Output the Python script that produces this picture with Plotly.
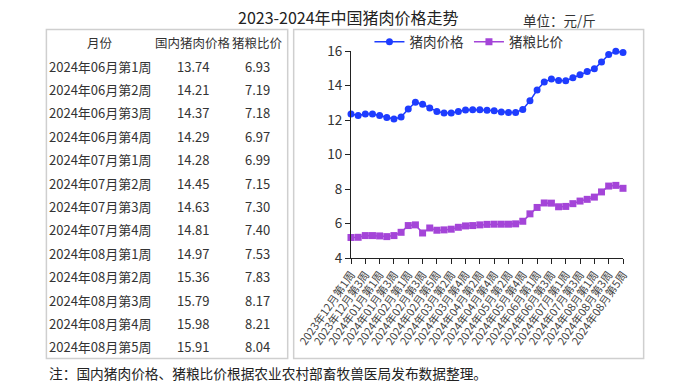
import plotly.graph_objects as go

weeks = [
    "2023年12月第1周", "2023年12月第2周", "2023年12月第3周", "2023年12月第4周",
    "2024年01月第1周", "2024年01月第2周", "2024年01月第3周", "2024年01月第4周",
    "2024年02月第1周", "2024年02月第2周", "2024年02月第3周", "2024年02月第4周", "2024年02月第5周",
    "2024年03月第1周", "2024年03月第2周", "2024年03月第3周", "2024年03月第4周",
    "2024年04月第1周", "2024年04月第2周", "2024年04月第3周", "2024年04月第4周",
    "2024年05月第1周", "2024年05月第2周", "2024年05月第3周", "2024年05月第4周", "2024年05月第5周",
    "2024年06月第1周", "2024年06月第2周", "2024年06月第3周", "2024年06月第4周",
    "2024年07月第1周", "2024年07月第2周", "2024年07月第3周", "2024年07月第4周",
    "2024年08月第1周", "2024年08月第2周", "2024年08月第3周", "2024年08月第4周", "2024年08月第5周",
]

pork_price = [
    12.35, 12.26, 12.35, 12.35, 12.26, 12.14, 12.06, 12.17, 12.64, 13.03,
    12.91, 12.70, 12.50, 12.41, 12.41, 12.49, 12.58, 12.60, 12.60, 12.56,
    12.53, 12.47, 12.44, 12.44, 12.61, 13.11,
    13.74, 14.21, 14.37, 14.29, 14.28, 14.45, 14.63, 14.81, 14.97, 15.36, 15.79, 15.98, 15.91,
]

pig_grain_ratio = [
    5.19, 5.20, 5.30, 5.30, 5.28, 5.24, 5.30, 5.49, 5.88, 5.92,
    5.45, 5.74, 5.61, 5.63, 5.67, 5.78, 5.86, 5.88, 5.92, 5.95,
    5.96, 5.96, 5.96, 5.98, 6.13, 6.56,
    6.93, 7.19, 7.18, 6.97, 6.99, 7.15, 7.30, 7.40, 7.53, 7.83, 8.17, 8.21, 8.04,
]

table_start = 26
table_headers = ["月份", "国内猪肉价格", "猪粮比价"]
series_names = ["猪肉价格", "猪粮比价"]
title_text = "2023-2024年中国猪肉价格走势"
unit_text = "单位：元/斤"
note_text = "注：国内猪肉价格、猪粮比价根据农业农村部畜牧兽医局发布数据整理。"

W, H = 681, 390
ML, MR, MT, MB = 350.5, 57.7, 50.7, 132.3
PW, PH = W - ML - MR, H - MT - MB
FONT = "Noto Sans CJK SC"


def fx(x):
    return (x - ML) / PW


def fy(y):
    return (H - MB - y) / PH


fig = go.Figure()
fig.add_trace(go.Scatter(
    x=weeks, y=pork_price, name=series_names[0], mode="lines+markers",
    line=dict(color="#1E3CFF", width=1.5),
    marker=dict(symbol="circle", size=7, color="#1E3CFF"),
    cliponaxis=False,
))
fig.add_trace(go.Scatter(
    x=weeks, y=pig_grain_ratio, name=series_names[1], mode="lines+markers",
    line=dict(color="#A445D8", width=1.5),
    marker=dict(symbol="square", size=7, color="#A445D8"),
    cliponaxis=False,
))

shapes = [
    dict(type="rect", xref="paper", yref="paper", x0=fx(45), x1=fx(287),
         y0=fy(358.3), y1=fy(29.3), line=dict(color="#cfcfcf", width=1.5)),
    dict(type="rect", xref="paper", yref="paper", x0=fx(293), x1=fx(644),
         y0=fy(358.3), y1=fy(29.3), line=dict(color="#cfcfcf", width=1.5)),
]

annotations = []


def ann(text, x, y, size, color="#333333", xanchor="center"):
    annotations.append(dict(
        text=text, xref="paper", yref="paper", x=fx(x), y=fy(y),
        xanchor=xanchor, yanchor="middle", showarrow=False,
        font=dict(family=FONT, size=size, color=color),
    ))


ann(title_text, 348, 16.3, 16, "#222222")
ann(unit_text, 560, 19.7, 13.5, "#333333")
ann(note_text, 46, 373, 13.7, "#222222", xanchor="left")

col_x = [99, 192, 257]
for cx, h in zip(col_x, table_headers):
    ann(h, cx, 42, 12.5)
for i in range(table_start, len(weeks)):
    yy = 65.7 + (i - table_start) * 23.4
    ann(weeks[i], col_x[0], yy, 13)
    ann(f"{pork_price[i]:.2f}", col_x[1], yy, 13)
    ann(f"{pig_grain_ratio[i]:.2f}", col_x[2], yy, 13)

fig.update_layout(
    width=W, height=H,
    margin=dict(l=ML, r=MR, t=MT, b=MB, pad=0),
    paper_bgcolor="white", plot_bgcolor="white",
    font=dict(family=FONT, color="#333333"),
    showlegend=True,
    legend=dict(orientation="h", x=fx(369), y=fy(41.7), xanchor="left", yanchor="middle",
                font=dict(family=FONT, size=13.5, color="#333333"),
                bgcolor="rgba(0,0,0,0)", itemwidth=30, tracegroupgap=0),
    shapes=shapes,
    annotations=annotations,
    xaxis=dict(
        type="category", range=[0, len(weeks) - 1],
        tickmode="array", tickvals=weeks[::2], ticktext=weeks[::2],
        tickangle=-55, tickfont=dict(family=FONT, size=11, color="#444444"),
        showline=True, linecolor="#222222", linewidth=1,
        ticks="outside", ticklen=5, tickcolor="#222222",
        showgrid=False, zeroline=False, automargin=False,
    ),
    yaxis=dict(
        range=[4, 16], tickvals=[4, 6, 8, 10, 12, 14, 16],
        tickfont=dict(family=FONT, size=13.5, color="#333333"),
        showline=True, linecolor="#222222", linewidth=1,
        ticks="outside", ticklen=5, tickcolor="#222222",
        showgrid=False, zeroline=False, automargin=False,
    ),
)

fig.write_html(
    "out.html",
    config={"displayModeBar": False},
    post_script="document.body.style.margin='0';document.body.style.overflow='hidden';",
)
